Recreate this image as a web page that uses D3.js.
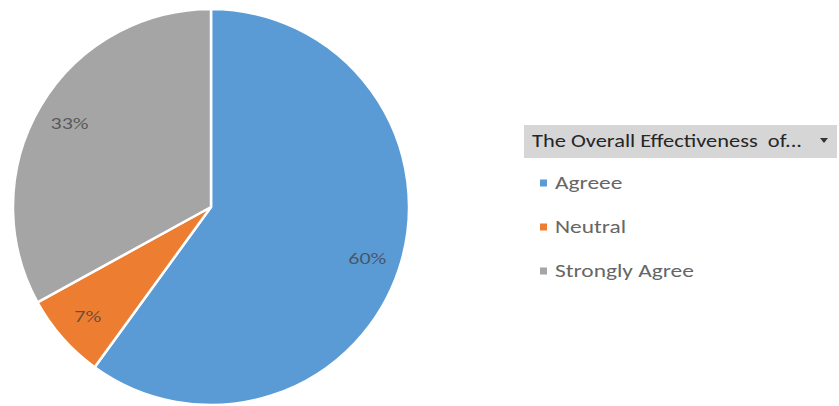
<!DOCTYPE html>
<html><head><meta charset="utf-8">
<script src="https://cdn.jsdelivr.net/npm/d3@7"></script>
<style>body{margin:0;background:#fff}svg{display:block}</style>
</head><body>
<svg id="c" width="839" height="406"></svg>
<script>
const categories = ["Agreee", "Neutral", "Strongly Agree"];
const values = [60, 7, 33];
const labels = ["60%", "7%", "33%"];
const colors = ["#5B9BD5", "#ED7D31", "#A5A5A5"];
const legendTitle = "The Overall Effectiveness  of...";

const svg = d3.select("#c");
const cx = 211, cy = 207, r = 198;
const font = "Carlito, Calibri, Lato, sans-serif";

const pie = d3.pie().sort(null).value(d => d)(values);
const arc = d3.arc().innerRadius(0).outerRadius(r);
const labelArc = d3.arc().innerRadius(r * 0.83).outerRadius(r * 0.83);

const g = svg.append("g").attr("transform", `translate(${cx},${cy})`);
g.selectAll("path").data(pie).join("path")
  .attr("d", arc)
  .attr("fill", (d, i) => colors[i])
  .attr("stroke", "#fff").attr("stroke-width", 2.5).attr("stroke-linejoin", "round");

g.selectAll("text").data(pie).join("text")
  .attr("transform", d => `translate(${labelArc.centroid(d)}) scale(1.3,1)`)
  .attr("text-anchor", "middle").attr("dy", "0.35em")
  .attr("font-family", font).attr("font-size", 17)
  .attr("fill", "#404040").attr("fill-opacity", 0.75)
  .text((d, i) => labels[i]);

// legend header
const lg = svg.append("g");
lg.append("rect").attr("x", 524).attr("y", 125).attr("width", 313).attr("height", 33)
  .attr("fill", "#d6d6d6");
lg.append("text").attr("x", 532).attr("y", 147)
  .attr("font-family", font).attr("font-size", 19).attr("fill", "#262626")
  .attr("textLength", 270).attr("lengthAdjust", "spacingAndGlyphs")
  .attr("xml:space", "preserve")
  .text(legendTitle);
lg.append("path").attr("d", "M820,138 L828,138 L824,143 Z").attr("fill", "#333");

const items = lg.selectAll("g.item").data(categories).join("g")
  .attr("transform", (d, i) => `translate(540,${183 + i * 44})`);
items.append("rect").attr("x", 0).attr("y", -3.5).attr("width", 7).attr("height", 7)
  .attr("fill", (d, i) => colors[i]);
items.append("text").attr("transform", "translate(15,0) scale(1.3,1)").attr("dy", "0.35em")
  .attr("font-family", font).attr("font-size", 18).attr("fill", "#666")
  .text(d => d);
</script>
</body></html>
